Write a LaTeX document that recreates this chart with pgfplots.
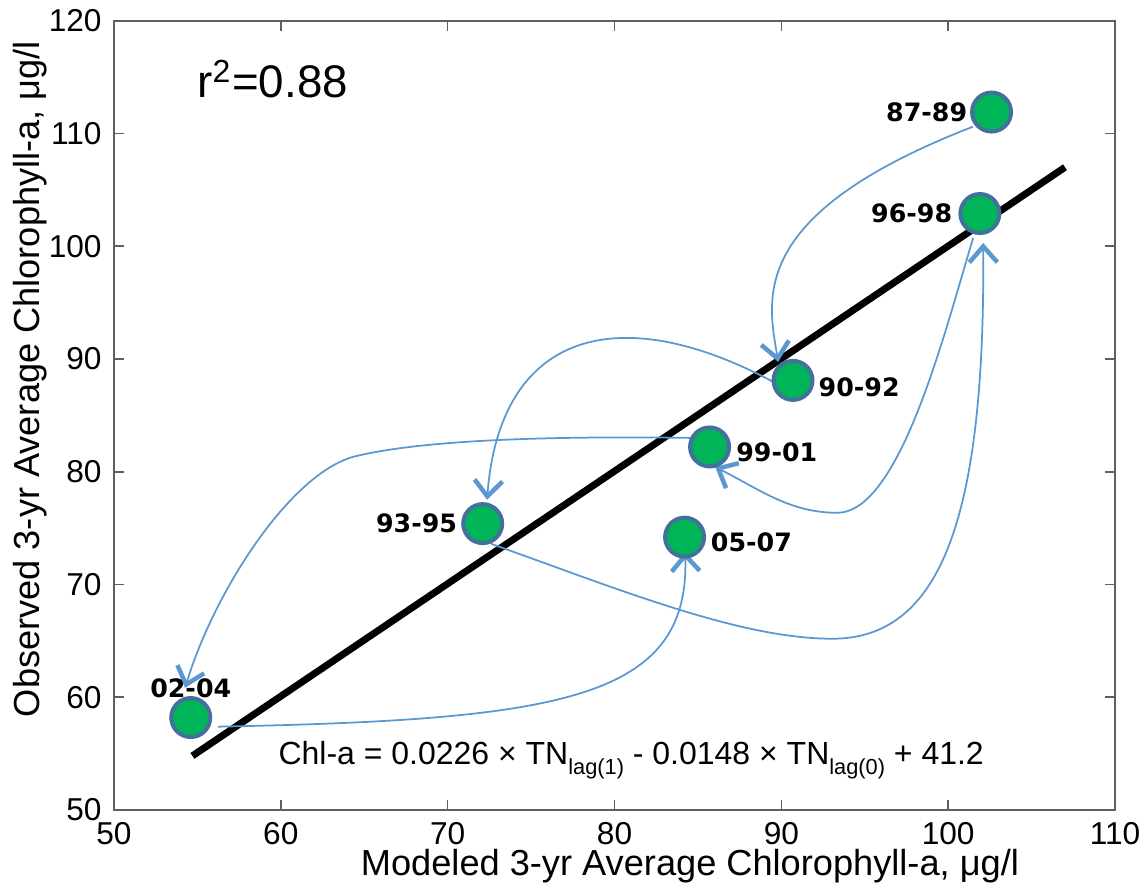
\documentclass[border=0pt]{standalone}
\usepackage{fontspec}
\setmainfont{Liberation Sans}
\newfontfamily\lblfont{DejaVu Sans}
\usepackage{pgfplots}
\pgfplotsset{compat=1.18}
\usetikzlibrary{arrows.meta}
\definecolor{ptgreen}{RGB}{0,180,88}
\definecolor{ptedge}{RGB}{68,112,156}
\definecolor{arrblue}{RGB}{91,152,210}
\definecolor{axgray}{RGB}{95,95,95}

\begin{document}
\begin{tikzpicture}[
  arr/.style={draw=arrblue, line width=0.5pt,
    -{Straight Barb[length=1.6mm, width=2.8mm, line width=0.45mm]}},
  plbl/.style={font=\lblfont\bfseries\fontsize{7.2}{9}\selectfont, inner sep=0pt}]
\useasboundingbox (-11.4mm,-7.9mm) rectangle (103.0mm,81.0mm);
\begin{axis}[
  at={(0,0)}, anchor=south west,
  scale only axis, width=100.1mm, height=78.93mm,
  xmin=50, xmax=110, ymin=50, ymax=120,
  xtick={50,60,...,110}, ytick={50,60,...,120},
  xtick pos=both, ytick pos=both, tick align=inside,
  major tick length=1mm,
  axis line style={axgray, line width=0.45pt},
  tick style={axgray, line width=0.45pt},
  ticklabel style={font=\fontsize{9}{10}\selectfont},
  /pgf/number format/assume math mode=true,
  label style={font=\fontsize{10.3}{12}\selectfont},
  xlabel={Modeled 3-yr Average Chlorophyll-a, μg/l},
  ylabel={Observed 3-yr Average Chlorophyll-a, μg/l},
  xlabel style={at={(axis description cs:0.5754,-0.071)}, anchor=center},
  ylabel style={at={(axis description cs:-0.0839,0.546)}, anchor=center},
  clip=false]

% 1:1 regression line
\addplot[black, line width=0.7mm] coordinates {(54.7,54.8) (107,107)};

% sequence arrows
\draw[arr] (axis cs:101.48,110.6) .. controls (axis cs:87.83,102.77) and (axis cs:89.21,95.24) .. (axis cs:89.81,89.74);
\draw[arr] (axis cs:89.51,87.97) .. controls (axis cs:80.34,95.24) and (axis cs:73.14,92.58) .. (axis cs:72.36,77.51);
\draw[arr] (axis cs:72.60,73.61) .. controls (axis cs:80.34,69.53) and (axis cs:87.53,65.19) .. (axis cs:93.05,65.19)
  .. controls (axis cs:99.52,65.19) and (axis cs:102.22,75.74) .. (axis cs:102.10,100.29);
\draw[arr] (axis cs:101.50,100.74) .. controls (axis cs:99.82,92.58) and (axis cs:97.12,76.36) .. (axis cs:93.35,76.36)
  .. controls (axis cs:90.53,76.36) and (axis cs:88.73,78.40) .. (axis cs:86.03,80.43);
\draw[arr] (axis cs:84.53,83.0) .. controls (axis cs:76.14,83.18) and (axis cs:68.35,82.83) .. (axis cs:64.33,81.32)
  .. controls (axis cs:60.55,79.72) and (axis cs:56.06,69.53) .. (axis cs:54.26,60.84);
\draw[arr] (axis cs:56.24,57.39) .. controls (axis cs:76.74,58.0) and (axis cs:84.53,59.78) .. (axis cs:84.23,72.90);

% observed vs modeled
\addplot[only marks, mark=*, mark size=1.95mm,
  mark options={fill=ptgreen, draw=ptedge, line width=0.4mm}]
  coordinates {(102.6,111.9) (90.7,88.1) (72.1,75.4) (101.9,102.9)
               (85.7,82.2) (54.6,58.2) (84.2,74.2)};

% period labels
\node[plbl, anchor=east, xshift=-2.37mm] at (axis cs:102.6,111.9) {87-89};
\node[plbl, anchor=east, xshift=-2.7mm] at (axis cs:101.9,102.9) {96-98};
\node[plbl, anchor=west, xshift=2.5mm, yshift=-0.7mm] at (axis cs:90.7,88.1) {90-92};
\node[plbl, anchor=west, xshift=2.6mm, yshift=-0.5mm] at (axis cs:85.7,82.2) {99-01};
\node[plbl, anchor=east, xshift=-2.5mm] at (axis cs:72.1,75.4) {93-95};
\node[plbl, anchor=west, xshift=2.57mm, yshift=-0.5mm] at (axis cs:84.2,74.2) {05-07};
\node[plbl, anchor=center, yshift=2.9mm] at (axis cs:54.6,58.2) {02-04};

\node[anchor=base west, inner sep=0pt, font=\fontsize{13}{15}\selectfont]
  at (axis cs:54.96,113.15) {r\textsuperscript{2}=0.88};
\node[anchor=base, inner sep=0pt, font=\fontsize{9.1}{11}\selectfont]
  at (axis cs:81.0,54.0)
  {Chl-a = 0.0226 × TN\raisebox{-1mm}{\fontsize{6.2}{7}\selectfont lag(1)} - 0.0148 × TN\raisebox{-1mm}{\fontsize{6.2}{7}\selectfont lag(0)} + 41.2};
\end{axis}
\end{tikzpicture}
\end{document}
